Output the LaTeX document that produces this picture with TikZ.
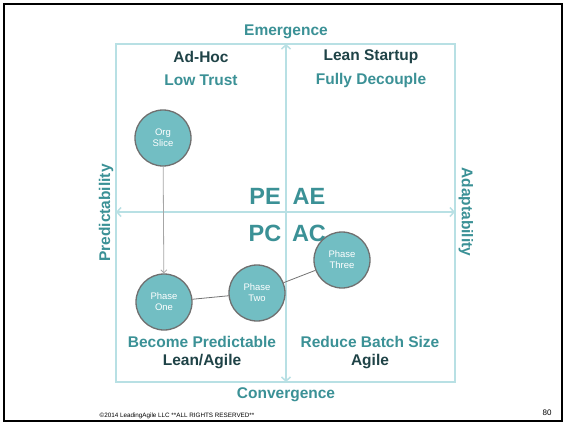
\documentclass[tikz,border=0pt]{standalone}
\usepackage{fontspec}
\setmainfont{Liberation Sans}
\usetikzlibrary{arrows.meta}
\definecolor{tealtxt}{HTML}{3B9196}
\definecolor{darktxt}{HTML}{1F4347}
\definecolor{axisblue}{HTML}{B8E0E4}
\definecolor{phasefill}{HTML}{72BEC3}
\definecolor{phaseedge}{HTML}{707070}
\tikzset{
  phase/.style={circle, fill=phasefill, draw=phaseedge, line width=1.3pt,
    minimum size=56pt, inner sep=0pt, text=white, align=center,
    font=\fontsize{9.5}{11}\selectfont},
  quadtitle/.style={text=darktxt, font=\fontsize{15.5}{17}\selectfont\bfseries},
  quadsub/.style={text=tealtxt, font=\fontsize{15.5}{17}\selectfont\bfseries},
  axislabel/.style={text=tealtxt, font=\fontsize{15.5}{17}\selectfont\bfseries},
  bigcode/.style={text=tealtxt, font=\fontsize{23.5}{26}\selectfont\bfseries},
  axisline/.style={draw=axisblue, line width=1.5pt,
    {Straight Barb[length=4pt,width=9pt]}-{Straight Barb[length=4pt,width=9pt]}}
}
\begin{document}
\begin{tikzpicture}[x=1pt, y=-1pt]
    \useasboundingbox[fill=white] (0,0) rectangle (565,424);
    % Cadre de la diapositive
    \draw[line width=2.5pt] (4,4) rectangle (562,421);
    % Quadrants
    \draw[axisblue, line width=1.5pt] (116,44) rectangle (455,382);
    \coordinate (top) at (286,44);
    \coordinate (bottom) at (286,382);
    \coordinate (left) at (116,212);
    \coordinate (right) at (455,212);
    \draw[axisline] (top) -- (bottom);
    \draw[axisline] (left) -- (right);
    % Axes
    \node[axislabel] (emergence) at (286,32) {Emergence};
    \node[axislabel] (convergence) at (286,395) {Convergence};
    \node[axislabel, rotate=90] (predict) at (106,213) {Predictability};
    \node[axislabel, rotate=-90] (adapt) at (466,212) {Adaptability};
    % Titres des quadrants
    \node[quadtitle] (adhoc) at (201,57) {Ad-Hoc};
    \node[quadsub] (lowtrust) at (201,80) {Low Trust};
    \node[quadtitle] (leanstartup) at (371,57) {Lean Startup};
    \node[quadsub] (decouple) at (371,80) {Fully Decouple};
    \node[quadsub] (predictable) at (202,342) {Become Predictable};
    \node[quadtitle] (leanagile) at (202,362) {Lean/Agile};
    \node[quadsub] (batchsize) at (370,342) {Reduce Batch Size};
    \node[quadtitle] (agile) at (370,362) {Agile};
    % Codes
    \node[bigcode] (pe) at (265,196) {PE};
    \node[bigcode] (ae) at (309,196) {AE};
    \node[bigcode] (pc) at (265,233) {PC};
    \node[bigcode] (ac) at (309,233) {AC};
    % Phases
    \node[phase] (orgslice) at (163,138) {Org\\Slice};
    \node[phase] (phaseone) at (164,302) {Phase\\One};
    \node[phase] (phasetwo) at (257,293) {Phase\\Two};
    \node[phase] (phasethree) at (342,260) {Phase\\Three};
    \draw[draw=black!35, line width=0.8pt, -{Straight Barb[length=3pt,width=6pt]}] (orgslice) -- (phaseone);
    \draw[draw=black!55, line width=0.8pt] (phaseone) -- (phasetwo);
    \draw[draw=black!55, line width=0.8pt] (phasetwo) -- (phasethree);
    % Pied de page
    \node[font=\fontsize{6.3}{7}\selectfont] (footer) at (177,416) {\copyright2014 LeadingAgile LLC **ALL RIGHTS RESERVED**};
    \node[font=\fontsize{8}{9}\selectfont] (pagenum) at (547,413) {80};
\end{tikzpicture}
\end{document}
